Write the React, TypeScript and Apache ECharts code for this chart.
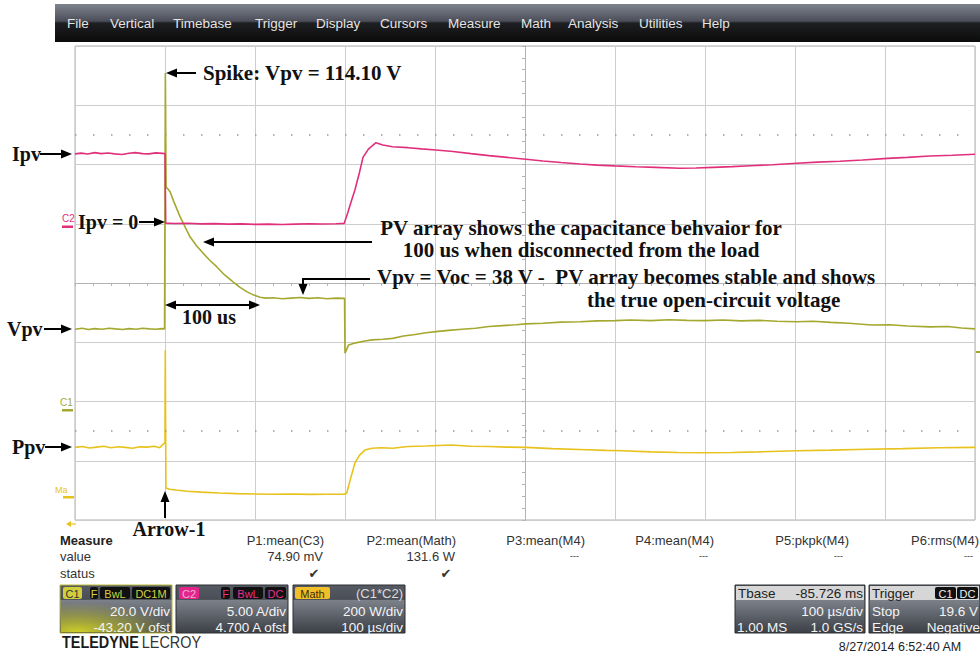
import React, { useEffect, useRef } from 'react';
import * as echarts from 'echarts';

// ---------------- Data (read from the scope capture) ----------------
// Vpv (channel C1, volts) vs time (µs, trigger event at 0)
const vpvTimeUs = [-100, -92, -85, -78, -70, -62, -55, -47, -40, -32, -25, -17, -10, -4, -0.5, 0, 0.4, 1.2, 3, 5.6, 10, 16.7, 22, 27.8, 35, 42.2, 50, 57.4, 66, 75.6, 83, 90.8, 98, 105.6, 112, 120, 130, 140, 150, 160, 170, 180, 190, 199.5, 200, 204, 212, 222, 230, 242, 253, 265, 278, 290, 301, 315, 330, 345, 360, 375, 390, 401, 420, 440, 461, 480, 500, 517, 540, 560, 580, 600, 620, 640, 660, 680, 702, 720, 740, 760, 785, 805, 825, 850, 870, 885, 900];
const vpvVolts = [27.6, 27.9, 27.5, 27.8, 27.6, 27.9, 27.7, 27.5, 27.8, 27.6, 27.9, 27.7, 27.6, 27.8, 27.7, 27.7, 114.1, 75.6, 75.0, 74.0, 70.5, 65.6, 62.3, 58.8, 55.8, 53.3, 50.8, 48.7, 46.0, 43.6, 41.8, 40.3, 39.2, 38.4, 38.1, 38.2, 37.9, 38.1, 38.3, 38.0, 38.2, 37.9, 38.1, 38.0, 19.5, 22.3, 23.0, 23.6, 24.0, 24.2, 24.5, 25.3, 25.8, 26.4, 26.8, 27.2, 27.6, 27.9, 28.5, 28.8, 29.1, 29.4, 29.6, 30.0, 30.1, 30.4, 30.5, 30.7, 30.5, 30.8, 30.6, 30.5, 30.7, 30.4, 30.6, 30.3, 30.1, 30.3, 29.9, 29.6, 29.0, 29.1, 28.7, 28.4, 28.5, 28.0, 27.7];

// Ipv (channel C2, amperes)
const ipvTimeUs = [-100, -93, -86, -78, -71, -63, -56, -48, -40, -33, -25, -18, -10, -3, 0, 0.8, 10, 25, 40, 55, 70, 85, 100, 115, 130, 145, 160, 175, 190, 199, 203, 207, 211, 216, 220, 226, 234.4, 242, 252.8, 270, 285, 301, 320, 340, 360, 380, 401, 420, 440, 461, 480, 500, 523, 545, 572, 590, 609, 630, 650, 675, 702, 725, 750, 775, 803, 825, 850, 875, 900];
const ipvAmps = [6.2, 6.26, 6.18, 6.3, 6.22, 6.27, 6.2, 6.15, 6.25, 6.3, 6.22, 6.2, 6.28, 6.24, 6.22, 0.35, 0.32, 0.34, 0.29, 0.31, 0.27, 0.29, 0.25, 0.27, 0.24, 0.27, 0.3, 0.28, 0.3, 0.33, 1.2, 2.2, 3.15, 4.6, 5.9, 6.6, 7.14, 6.95, 6.8, 6.72, 6.62, 6.52, 6.4, 6.22, 6.05, 5.9, 5.74, 5.6, 5.47, 5.34, 5.25, 5.18, 5.11, 5.06, 4.98, 5.0, 5.06, 5.12, 5.2, 5.28, 5.4, 5.5, 5.58, 5.68, 5.82, 5.9, 6.02, 6.08, 6.16];

// Ppv (Math = C1*C2, watts)
const ppvTimeUs = [-100, -92, -84, -76, -68, -60, -52, -44, -36, -28, -20, -12, -6, -2, 0, 0.3, 1, 5, 12, 25, 40, 60, 80, 100, 120, 140, 160, 180, 199, 202, 206, 211, 216, 222, 230, 240, 253, 270, 290, 318, 340, 360, 380, 401, 430, 460, 490, 508, 540, 570, 600, 630, 660, 702, 740, 780, 820, 860, 900];
const ppvWatts = [167, 170, 165, 168, 171, 166, 169, 167, 164, 169, 168, 171, 166, 178, 182, 495, 30, 26, 23, 19, 16, 13, 11, 10, 9, 10, 8.5, 9, 8.7, 13, 60, 114, 140, 158, 164, 166, 164, 170, 172, 175, 171, 170, 168, 167, 163, 160, 157, 156, 152, 150, 149, 150, 152, 156, 158, 161, 163, 166, 167];

// Scope settings
const c1VoltsPerDiv = 20;
const c1Offset = -43.2;
const c2AmpsPerDiv = 5;
const c2Offset = 4.7;
const mathWattsPerDiv = 200;
const mathBottom = -78;
const timePerDivUs = 100;

// UI texts
const menuItems = ['File', 'Vertical', 'Timebase', 'Trigger', 'Display', 'Cursors', 'Measure', 'Math', 'Analysis', 'Utilities', 'Help'];
const measureHeaders = ['P1:mean(C3)', 'P2:mean(Math)', 'P3:mean(M4)', 'P4:mean(M4)', 'P5:pkpk(M4)', 'P6:rms(M4)'];
const measureValues = ['74.90 mV', '131.6 W', '---', '---', '---', '---'];
const measureStatus = [true, true, false, false, false, false];

// ---------------- Layout ----------------
const MENU_X = [67, 110, 173, 255, 316, 380, 448, 521, 568, 639, 702];
const COL_R = [324, 456, 585, 714, 849, 979];
const SANS = 'Liberation Sans, Arial, sans-serif';
const SERIF = 'Liberation Serif, Times New Roman, serif';
const C_IPV = '#e0307c';
const C_VPV = '#a5a82f';
const C_PPV = '#e8c21c';

const toPairs = (t: number[], v: number[]) => t.map((x, i) => [x, v[i]]);

function txt(x: number, y: number, text: string, o: any = {}) {
  return {
    type: 'text', x, y, z: o.z ?? 24, silent: true,
    scaleX: o.sx ?? 1,
    style: {
      text, fill: o.fill ?? '#222', fontSize: o.size ?? 13, fontWeight: o.weight ?? 'normal',
      fontFamily: o.family ?? SANS, textAlign: o.align ?? 'left', textVerticalAlign: 'middle',
    },
  };
}

function arrow(x1: number, y1: number, x2: number, y2: number, o: any = {}) {
  const color = o.color ?? '#000';
  const head = o.head ?? 11;
  const hw = o.hw ?? 4.5;
  const w = o.w ?? 2;
  const dx = x2 - x1, dy = y2 - y1;
  const L = Math.hypot(dx, dy);
  const ux = dx / L, uy = dy / L, nx = -uy, ny = ux;
  const mk = (tx: number, ty: number, sx: number, sy: number) => ({
    type: 'polygon', z: 20, silent: true,
    shape: { points: [[tx, ty], [tx - sx * head + nx * hw, ty - sy * head + ny * hw], [tx - sx * head - nx * hw, ty - sy * head - ny * hw]] },
    style: { fill: color },
  });
  const els: any[] = [];
  const sx = o.both ? x1 + ux * head * 0.8 : x1;
  const sy = o.both ? y1 + uy * head * 0.8 : y1;
  els.push({ type: 'line', z: 20, silent: true, shape: { x1: sx, y1: sy, x2: x2 - ux * head * 0.8, y2: y2 - uy * head * 0.8 }, style: { stroke: color, lineWidth: w } });
  els.push(mk(x2, y2, ux, uy));
  if (o.both) els.push(mk(x1, y1, -ux, -uy));
  return els;
}

const boxGrad = {
  type: 'linear', x: 0, y: 0, x2: 0, y2: 1,
  colorStops: [
    { offset: 0, color: '#565a62' }, { offset: 0.3, color: '#4a4e56' }, { offset: 0.32, color: '#7c8088' },
    { offset: 0.65, color: '#5c6068' }, { offset: 1, color: '#3c3f46' },
  ],
};

function badge(x: number, w: number, label: string, bg: string, fg: string, y = 587) {
  return [
    { type: 'rect', z: 21, silent: true, shape: { x, y, width: w, height: 12, r: 2 }, style: { fill: bg } },
    txt(x + w / 2, y + 6.5, label, { fill: fg, size: 11, align: 'center', z: 25 }),
  ];
}

function channelBox(x: number, w: number, border: string) {
  return { type: 'rect', z: 19, silent: true, shape: { x, y: 585, width: w, height: 48 }, style: { fill: boxGrad, stroke: border, lineWidth: 1 } };
}

function buildGraphics() {
  const g: any[] = [];
  // menu bar
  g.push({
    type: 'rect', z: 19, silent: true, shape: { x: 55, y: 4, width: 925, height: 38 },
    style: {
      fill: { type: 'linear', x: 0, y: 0, x2: 0, y2: 1, colorStops: [{ offset: 0, color: '#80848f' }, { offset: 0.45, color: '#4b4e58' }, { offset: 0.5, color: '#1e1f22' }, { offset: 1, color: '#0b0b0b' }] },
    },
  });
  menuItems.forEach((m, i) => g.push(txt(MENU_X[i], 23, m, { fill: '#e4e4e4', size: 13.5 })));

  // left trace labels
  const lab = { family: SERIF, weight: 'bold', size: 20, fill: '#111' };
  g.push(txt(12, 154, 'Ipv', lab), ...arrow(40, 154, 72, 154));
  g.push(txt(7, 329, 'Vpv', lab), ...arrow(44, 329, 72, 329));
  g.push(txt(12, 447, 'Ppv', lab), ...arrow(45, 447, 72, 447));

  // channel ground markers
  g.push(txt(62, 218, 'C2', { fill: C_IPV, size: 10 }));
  g.push({ type: 'rect', z: 20, silent: true, shape: { x: 62, y: 225.5, width: 11, height: 2.5 }, style: { fill: C_IPV } });
  g.push(txt(60, 402, 'C1', { fill: C_VPV, size: 10 }));
  g.push({ type: 'rect', z: 20, silent: true, shape: { x: 62, y: 409, width: 11, height: 2.5 }, style: { fill: C_VPV } });
  g.push(txt(55, 490, 'Ma', { fill: C_PPV, size: 9 }));
  g.push({ type: 'rect', z: 20, silent: true, shape: { x: 63, y: 496, width: 11, height: 2.5 }, style: { fill: C_PPV } });
  g.push(...arrow(76, 524, 66, 524, { color: C_PPV, w: 1.2, head: 5, hw: 3 }));
  g.push({ type: 'rect', z: 20, silent: true, shape: { x: 976, y: 351, width: 4, height: 2 }, style: { fill: C_VPV } });

  // annotations
  g.push(txt(203, 73, 'Spike: Vpv = 114.10 V', { ...lab, size: 21 }), ...arrow(196, 73, 166, 73));
  g.push(txt(78, 222, 'Ipv = 0', lab), ...arrow(139, 222, 165, 222));
  g.push(...arrow(372, 242, 203, 242));
  g.push(txt(581, 228, 'PV array shows the capacitance behvaior for', { ...lab, size: 21, align: 'center' }));
  g.push(txt(581, 250, '100 us when disconnected from the load', { ...lab, size: 21, align: 'center' }));
  g.push({ type: 'polyline', z: 20, silent: true, shape: { points: [[370, 279], [303, 279], [303, 287]] }, style: { stroke: '#000', lineWidth: 2, fill: null } });
  g.push(...arrow(303, 284, 303, 295));
  g.push(txt(377, 277, 'Vpv = Voc = 38 V -  PV array becomes stable and shows', { ...lab, size: 21 }));
  g.push(txt(587, 300, 'the true open-circuit voltage', { ...lab, size: 21 }));
  g.push(...arrow(165, 305, 260, 305, { both: true }));
  g.push(txt(209, 317, '100 us', { ...lab, align: 'center' }));
  g.push(...arrow(165, 518, 165, 491));
  g.push(txt(169, 529, 'Arrow-1', { ...lab, align: 'center' }));

  // measure table
  g.push(txt(60, 540, 'Measure', { weight: 'bold', size: 13, fill: '#222' }));
  g.push(txt(60, 556, 'value', { size: 13, fill: '#333' }));
  g.push(txt(60, 573, 'status', { size: 13, fill: '#333' }));
  measureHeaders.forEach((h, i) => g.push(txt(COL_R[i], 540, h, { size: 13, align: 'right', fill: '#333' })));
  measureValues.forEach((v, i) => g.push(txt(COL_R[i] - (v === '---' ? 6 : 1), 556, v, { size: v === '---' ? 9 : 13, align: 'right', fill: '#333' })));
  measureStatus.forEach((s, i) => { if (s) g.push(txt(COL_R[i] - 10, 573, '✔', { size: 13, align: 'center', fill: '#333', family: 'DejaVu Sans' })); });

  // channel boxes
  const white = { fill: '#f4f4f4', size: 13.5, align: 'right' };
  g.push(channelBox(60, 112, '#b8b836'));
  g.push({
    type: 'rect', z: 19, silent: true, shape: { x: 61, y: 599, width: 110, height: 33 },
    style: { fill: { type: 'radial', x: 0.15, y: 1, r: 0.9, colorStops: [{ offset: 0, color: 'rgba(215,215,40,0.95)' }, { offset: 1, color: 'rgba(215,215,40,0)' }] } },
  });
  g.push(...badge(63, 19, 'C1', '#cfcf3c', '#333'));
  g.push(...badge(90, 8, 'F', '#111', '#d2d040'));
  g.push(...badge(100, 30, 'BwL', '#111', '#d2d040'));
  g.push(...badge(132, 38, 'DC1M', '#111', '#d2d040'));
  g.push(txt(170, 611, '20.0 V/div', white));
  g.push(txt(170, 627, '-43.20 V ofst', white));

  g.push(channelBox(176, 112, '#2c2e33'));
  g.push(...badge(179, 20, 'C2', '#e3258b', '#f4b0d4'));
  g.push(...badge(221, 9, 'F', '#111', '#e8308f'));
  g.push(...badge(233, 30, 'BwL', '#111', '#e8308f'));
  g.push(...badge(265, 21, 'DC', '#111', '#e8308f'));
  g.push(txt(286, 611, '5.00 A/div', white));
  g.push(txt(286, 627, '4.700 A ofst', white));

  g.push(channelBox(293, 112, '#2c2e33'));
  g.push(...badge(295, 35, 'Math', '#f0bf2a', '#3a2c00'));
  g.push(txt(403, 593, '(C1*C2)', { fill: '#dcdcdc', size: 13, align: 'right' }));
  g.push(txt(403, 611, '200 W/div', white));
  g.push(txt(403, 627, '100 µs/div', white));

  // timebase & trigger boxes
  g.push(channelBox(735, 130, '#2c2e33'));
  g.push({ type: 'rect', z: 20, silent: true, shape: { x: 736, y: 586, width: 128, height: 14 }, style: { fill: '#d6d6d6' } });
  g.push(txt(738, 593, 'Tbase', { size: 13.5, fill: '#222' }));
  g.push(txt(863, 593, '-85.726 ms', { size: 13.5, fill: '#222', align: 'right' }));
  g.push(txt(863, 611, '100 µs/div', white));
  g.push(txt(737, 627, '1.00 MS', { ...white, align: 'left' }));
  g.push(txt(863, 627, '1.0 GS/s', white));

  g.push(channelBox(869, 111, '#2c2e33'));
  g.push({ type: 'rect', z: 20, silent: true, shape: { x: 870, y: 586, width: 109, height: 14 }, style: { fill: '#d6d6d6' } });
  g.push(txt(872, 593, 'Trigger', { size: 13.5, fill: '#222' }));
  g.push(...badge(935, 21, 'C1', '#111', '#f0f0f0', 587));
  g.push(...badge(957, 21, 'DC', '#111', '#f0f0f0', 587));
  g.push(txt(872, 611, 'Stop', { ...white, align: 'left' }));
  g.push(txt(978, 611, '19.6 V', white));
  g.push(txt(872, 627, 'Edge', { ...white, align: 'left' }));
  g.push(txt(980, 627, 'Negative', white));

  g.push(txt(900, 647, '8/27/2014 6:52:40 AM', { size: 12.5, fill: '#222', align: 'center' }));
  g.push({
    type: 'text', x: 62, y: 642, z: 24, silent: true, scaleX: 0.9,
    style: {
      text: '{b|TELEDYNE} {n|LECROY}', textVerticalAlign: 'middle', fontFamily: SANS,
      rich: { b: { fontWeight: 'bold', fontSize: 16, fill: '#1a1a1a', fontFamily: SANS }, n: { fontWeight: 'normal', fontSize: 16, fill: '#333', fontFamily: SANS } },
    },
  });
  return g;
}

function buildOption() {
  const gridColor = '#cdcdcd';
  const centerColor = '#b3b3b3';
  return {
    animation: false,
    backgroundColor: '#ffffff',
    grid: { left: 75, top: 46, width: 900, height: 474, show: true, borderColor: '#b0b0b0', borderWidth: 1, containLabel: false, outerBoundsMode: 'none' },
    xAxis: [
      {
        type: 'value', min: -5, max: 5, interval: 1,
        axisLabel: { show: false },
        axisLine: { show: true, onZero: true, onZeroAxisIndex: 0, lineStyle: { color: centerColor, width: 1 } },
        axisTick: { show: true, length: 3, lineStyle: { color: centerColor } },
        minorTick: { show: true, splitNumber: 5, length: 3, lineStyle: { color: centerColor } },
        splitLine: { show: true, lineStyle: { color: gridColor, width: 1 } },
      },
      { type: 'value', min: -timePerDivUs, max: 9 * timePerDivUs, interval: timePerDivUs, show: false },
    ],
    yAxis: [
      {
        type: 'value', min: -4, max: 4, interval: 1,
        axisLabel: { show: false },
        axisLine: { show: true, onZero: true, onZeroAxisIndex: 0, lineStyle: { color: centerColor, width: 1 } },
        axisTick: { show: true, length: 3, lineStyle: { color: centerColor } },
        minorTick: { show: true, splitNumber: 5, length: 3, lineStyle: { color: centerColor } },
        splitLine: { show: true, lineStyle: { color: gridColor, width: 1 } },
      },
      { type: 'value', show: false, min: -c1Offset - 4 * c1VoltsPerDiv, max: -c1Offset + 4 * c1VoltsPerDiv },
      { type: 'value', show: false, min: -c2Offset - 4 * c2AmpsPerDiv, max: -c2Offset + 4 * c2AmpsPerDiv },
      { type: 'value', show: false, min: mathBottom, max: mathBottom + 8 * mathWattsPerDiv },
    ],
    series: [
      {
        type: 'line', data: [], xAxisIndex: 0, yAxisIndex: 0, silent: true,
        markLine: {
          symbol: 'none', silent: true, label: { show: false },
          lineStyle: { color: '#9a9a9a', type: [1.5, 16.5], width: 1.5 },
          data: [{ yAxis: 2.5 }, { yAxis: -2.5 }],
        },
      },
      {
        name: 'Ppv', type: 'line', xAxisIndex: 1, yAxisIndex: 3, data: toPairs(ppvTimeUs, ppvWatts),
        showSymbol: false, symbol: 'none', lineStyle: { color: C_PPV, width: 1.6 }, itemStyle: { color: C_PPV }, z: 3,
      },
      {
        name: 'Vpv', type: 'line', xAxisIndex: 1, yAxisIndex: 1, data: toPairs(vpvTimeUs, vpvVolts),
        showSymbol: false, symbol: 'none', lineStyle: { color: C_VPV, width: 1.6 }, itemStyle: { color: C_VPV }, z: 4,
      },
      {
        name: 'Ipv', type: 'line', xAxisIndex: 1, yAxisIndex: 2, data: toPairs(ipvTimeUs, ipvAmps),
        showSymbol: false, symbol: 'none', lineStyle: { color: C_IPV, width: 1.6 }, itemStyle: { color: C_IPV }, z: 5,
      },
    ],
    graphic: { elements: buildGraphics() },
  };
}

export default function App() {
  const ref = useRef<HTMLDivElement>(null);
  useEffect(() => {
    document.body.style.margin = '0';
    const chart = echarts.init(ref.current as HTMLDivElement, null, { renderer: 'svg', width: 980, height: 657 });
    chart.setOption(buildOption() as any);
    return () => chart.dispose();
  }, []);
  return <div ref={ref} style={{ position: 'absolute', left: 0, top: 0, width: 980, height: 657, background: '#fff' }} />;
}
